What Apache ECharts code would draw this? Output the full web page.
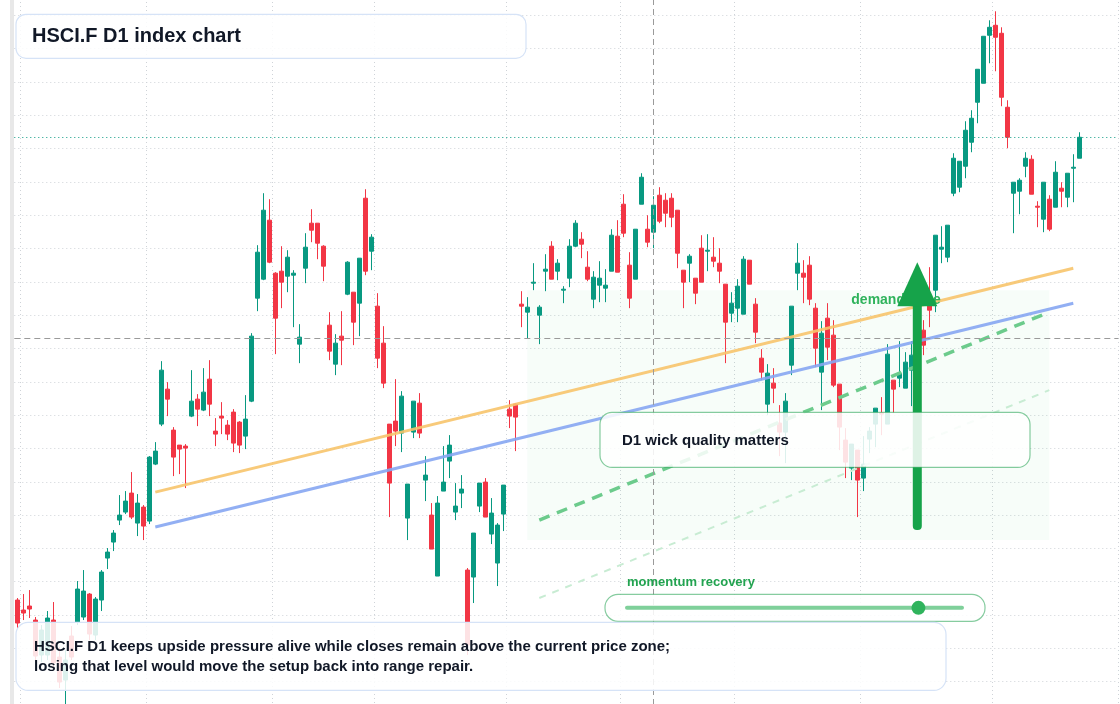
<!DOCTYPE html>
<html><head><meta charset="utf-8">
<script src="https://cdn.jsdelivr.net/npm/echarts@6/dist/echarts.min.js"></script>
<style>html,body{margin:0;padding:0;background:#fff;overflow:hidden;width:1120px;height:704px}#c{position:absolute;left:0;top:-18.333px;width:1120px;height:733.333px}</style>
</head><body><div id="c"></div>
<script>
const opens=[3315,3305,3309,3295,3260,3260,3295,3258,3235,3279,
3293,3298,3321,3280,3315,3357,3373,3395,3403,3422,
3392,3408,3394,3451,3491,3526,3485,3470,3469,3499,
3516,3505,3536,3484,3499,3490,3503,3493,3479,3514,
3617,3636,3695,3642,3644,3639,3640,3571,3647,3692,
3692,3669,3590,3551,3579,3621,3623,3612,3717,3664,
3609,3572,3491,3494,3482,3397,3483,3512,3435,3400,
3339,3424,3454,3403,3422,3345,3338,3409,3433,3381,
3352,3401,3506,3511,3611,3603,3632,3600,3644,3669,
3644,3625,3637,3669,3676,3648,3616,3630,3627,3644,
3679,3711,3650,3636,3711,3686,3683,3720,3715,3717,
3705,3645,3652,3637,3667,3664,3658,3652,3631,3602,
3607,3601,3655,3611,3557,3511,3532,3492,3483,3550,
3642,3642,3650,3607,3543,3597,3580,3531,3475,3447,
3465,3437,3476,3491,3502,3491,3535,3537,3527,3545,
3560,3585,3615,3625,3666,3658,3722,3728,3749,3773,
3813,3832,3880,3890,3882,3808,3722,3724,3749,3756,
3709,3696,3716,3708,3727,3718,3747,3757];
const closes=[3292,3302,3306,3259,3285,3297,3252,3233,3255,3258,
3326,3324,3281,3316,3343,3363,3382,3400,3414,3398,
3412,3389,3458,3464,3545,3516,3458,3466,3467,3514,
3506,3523,3511,3481,3497,3481,3472,3470,3496,3579,
3663,3705,3653,3597,3633,3658,3642,3578,3668,3685,
3672,3649,3564,3572,3575,3653,3593,3657,3644,3678,
3557,3532,3432,3484,3519,3431,3514,3482,3440,3366,
3412,3433,3470,3409,3426,3270,3382,3432,3398,3402,
3390,3430,3499,3498,3609,3608,3633,3608,3646,3636,
3652,3626,3669,3692,3671,3636,3638,3637,3630,3680,
3643,3682,3617,3686,3738,3673,3710,3694,3702,3698,
3662,3633,3659,3622,3633,3665,3654,3644,3593,3612,
3629,3656,3631,3583,3543,3542,3527,3483,3514,3609,
3652,3638,3616,3567,3582,3568,3530,3488,3453,3471,
3435,3451,3484,3507,3501,3561,3526,3542,3553,3560,
3575,3570,3605,3680,3668,3690,3757,3754,3785,3797,
3846,3879,3888,3878,3818,3778,3733,3735,3757,3721,
3708,3733,3686,3743,3724,3742,3748,3778];
const lows=[3287,3295,3297,3255,3253,3255,3247,3227,3209,3255,
3290,3295,3275,3275,3304,3346,3364,3390,3401,3396,
3379,3375,3391,3450,3489,3499,3439,3441,3427,3498,
3489,3504,3499,3469,3481,3475,3463,3462,3466,3513,
3604,3635,3652,3561,3607,3623,3588,3552,3632,3673,
3656,3634,3555,3540,3550,3620,3570,3579,3640,3645,
3547,3527,3398,3469,3463,3375,3477,3477,3414,3366,
3339,3424,3437,3395,3407,3260,3312,3403,3398,3371,
3329,3384,3487,3464,3588,3577,3625,3571,3624,3636,
3635,3612,3628,3668,3657,3634,3607,3613,3613,3644,
3643,3678,3607,3636,3711,3668,3667,3692,3688,3688,
3647,3607,3633,3611,3633,3644,3648,3632,3552,3593,
3593,3601,3631,3572,3535,3500,3512,3459,3452,3540,
3625,3612,3610,3548,3505,3555,3528,3465,3437,3435,
3398,3424,3462,3468,3480,3491,3502,3528,3527,3509,
3550,3560,3588,3603,3652,3653,3719,3723,3737,3763,
3792,3832,3852,3844,3809,3767,3682,3701,3738,3721,
3688,3683,3684,3708,3708,3708,3713,3757];
const highs=[3317,3321,3325,3298,3290,3304,3313,3268,3265,3289,
3334,3345,3322,3318,3345,3367,3385,3420,3424,3443,
3421,3410,3459,3473,3554,3533,3488,3470,3471,3545,
3521,3547,3555,3497,3513,3495,3506,3494,3520,3582,
3670,3722,3716,3643,3669,3665,3645,3591,3682,3706,
3692,3670,3603,3581,3604,3654,3623,3657,3726,3681,
3622,3589,3491,3536,3524,3431,3514,3522,3459,3412,
3419,3469,3480,3432,3440,3347,3382,3432,3437,3417,
3392,3430,3515,3512,3624,3618,3652,3610,3661,3674,
3656,3629,3676,3695,3683,3664,3644,3654,3646,3686,
3695,3721,3663,3686,3742,3700,3719,3728,3722,3722,
3705,3645,3661,3637,3680,3681,3678,3667,3631,3623,
3636,3659,3655,3617,3566,3551,3547,3510,3522,3609,
3672,3655,3659,3612,3594,3612,3595,3531,3487,3471,
3465,3479,3488,3507,3518,3571,3535,3574,3563,3574,
3585,3595,3648,3680,3689,3690,3762,3754,3794,3805,
3846,3879,3895,3904,3888,3815,3733,3737,3763,3760,
3714,3733,3720,3754,3733,3742,3761,3783];
// trading-day categories (chart leaves 6 empty future sessions on the right)
const futureSessions=6;
const categories=[];
(function(){let d=new Date(Date.UTC(2024,0,2));while(categories.length<opens.length+futureSessions){const w=d.getUTCDay();if(w!==0&&w!==6)categories.push(d.toISOString().slice(0,10));d.setUTCDate(d.getUTCDate()+1);}})();
const monthBreaks=[1,22,43,60,82,101,120,141,163];
const trendOrange=[[23,3423],[176,3647]];
const trendBlue=[[23,3388],[176,3612]];
const trendGreen=[[87,3395],[172,3603]];
const trendGreenLight=[[87,3317],[172,3525]];
const demandZone={from:85,to:172,low:3375,high:3625};
const lastPrice=3778, crossIndex=106, crossPrice=3577;
const arrowIndex=150, arrowFrom=3385, arrowTo=3653;
const momentum=0.87;

const candles=opens.map((o,i)=>[o,closes[i],lows[i],highs[i]]);
const chart=echarts.init(document.getElementById('c'));
const UP='#089981', DN='#f23645';
const ff='"Liberation Sans", Arial, sans-serif';
const OY=18.333;
chart.setOption({
  animation:false,
  grid:{left:14.3,right:1.7,top:0,bottom:0},
  xAxis:{type:'category',data:categories,boundaryGap:true,
    axisLine:{show:false},axisTick:{show:false},axisLabel:{show:false},
    splitLine:{show:true,interval:(i)=>monthBreaks.includes(i),lineStyle:{color:'#cfd3d8',type:[1,3]}}},
  yAxis:{type:'value',min:3200,max:3933.3,interval:100/3,
    axisLine:{show:false},axisTick:{show:false},axisLabel:{show:false},
    splitLine:{show:true,lineStyle:{color:'#cfd3d8',type:[1,3]}}},
  series:[
    {type:'candlestick',data:candles,barWidth:5,z:3,
     itemStyle:{color:UP,color0:DN,borderColor:UP,borderColor0:DN,borderWidth:1},
     markArea:{silent:true,itemStyle:{color:'rgba(34,197,94,0.035)'},
       data:[[{xAxis:categories[demandZone.from],yAxis:demandZone.high},{xAxis:categories[demandZone.to],yAxis:demandZone.low}]]},
     markLine:{silent:true,symbol:'none',label:{show:false},
       data:[
        {yAxis:lastPrice,lineStyle:{color:UP,type:[1,3],width:1}},
        {yAxis:crossPrice,lineStyle:{color:'#9a9a9a',type:[6,4],width:1}},
        {xAxis:categories[crossIndex],lineStyle:{color:'#9a9a9a',type:[6,4],width:1}}
       ]}},
    {type:'line',data:trendOrange,symbol:'none',z:4,lineStyle:{color:'#f7c46c',width:3,opacity:0.9}},
    {type:'line',data:trendBlue,symbol:'none',z:4,lineStyle:{color:'#86a6f2',width:3,opacity:0.9}},
    {type:'line',data:trendGreen,symbol:'none',z:4,lineStyle:{color:'#6ccb8c',width:3.5,type:[11,8]}},
    {type:'line',data:trendGreenLight,symbol:'none',z:4,lineStyle:{color:'#c8ecd3',width:2,type:[7,7]}}
  ]
});
const ax=chart.convertToPixel({seriesIndex:0},[arrowIndex,arrowFrom]);
const at=chart.convertToPixel({seriesIndex:0},[arrowIndex,arrowTo]);
const zl=chart.convertToPixel({seriesIndex:0},[demandZone.from,demandZone.high]);
const AG='#16a34a';
const box=(x,y,w,h,r,stroke)=>({type:'rect',shape:{x,y:y+OY,width:w,height:h,r},style:{fill:'rgba(255,255,255,0.86)',stroke,lineWidth:1.2},z:100});
const txt=(x,y,text,font,fill)=>({type:'text',x,y:y+OY,style:{text,fill,font:font+' '+ff,textVerticalAlign:'middle'},z:101});
chart.setOption({graphic:[
  {type:'rect',shape:{x:10,y:0,width:4,height:740},style:{fill:'#e8e8e8'},z:90},
  {type:'text',x:zl[0]+324,y:zl[1]+3,style:{text:'demand zone',fill:'#2fb35c',font:'bold 14px '+ff},z:40},
  {type:'rect',shape:{x:ax[0]-4.5,y:at[1]+40,width:9,height:ax[1]-at[1]-40,r:4},style:{fill:AG},z:50},
  {type:'polygon',shape:{points:[[ax[0],at[1]],[ax[0]-20,at[1]+44],[ax[0]+20,at[1]+44]]},style:{fill:AG},z:50},
  box(16,14,510,44,10,'#d6e3f7'),
  txt(32,36,'HSCI.F D1 index chart','bold 20px','#111827'),
  box(600,412,430,55,12,'rgba(34,163,80,0.55)'),
  txt(622,441,'D1 wick quality matters','bold 15px','#111827'),
  txt(627,582,'momentum recovery','bold 13px','#22a350'),
  box(605,594,380,27,13,'rgba(34,163,80,0.55)'),
  {type:'line',shape:{x1:627,y1:607.5+OY,x2:962,y2:607.5+OY},style:{stroke:'#7fd09a',lineWidth:4,lineCap:'round'},z:102},
  {type:'circle',shape:{cx:627+(962-627)*momentum,cy:607.5+OY,r:7},style:{fill:'#2fb35c'},z:103},
  box(16,622,930,68,12,'#d6e3f7'),
  txt(34,647,'HSCI.F D1 keeps upside pressure alive while closes remain above the current price zone;','bold 15px','#111827'),
  txt(34,667,'losing that level would move the setup back into range repair.','bold 15px','#111827')
]});
</script></body></html>
